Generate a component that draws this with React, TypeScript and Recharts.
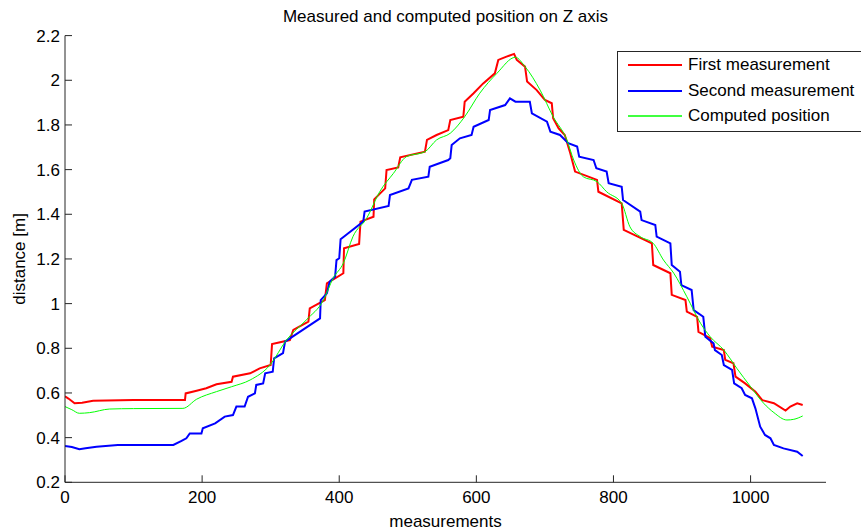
import {
  Label,
  Legend,
  Line,
  LineChart,
  XAxis,
  YAxis,
} from "recharts";

const firstMeasurement: [number, number][] = [
  [0, 0.585], [5, 0.575], [14, 0.554], [25, 0.556], [41, 0.565], [100, 0.568],
  [175, 0.568], [176, 0.598], [192, 0.61], [206, 0.621], [221, 0.639],
  [243, 0.65], [245, 0.673], [270, 0.688], [284, 0.71], [300, 0.725],
  [302, 0.819], [328, 0.837], [333, 0.882], [355, 0.919], [357, 0.979],
  [379, 1.016], [382, 1.091], [406, 1.136], [407, 1.248], [429, 1.267],
  [431, 1.367], [450, 1.389], [451, 1.467], [467, 1.516], [469, 1.598],
  [486, 1.61], [489, 1.655], [525, 1.68], [528, 1.733], [542, 1.755],
  [559, 1.777], [562, 1.822], [581, 1.837], [583, 1.904], [596, 1.942],
  [610, 1.986], [627, 2.031], [632, 2.091], [644, 2.106], [655, 2.118],
  [659, 2.091], [671, 2.061], [674, 1.994], [688, 1.956], [700, 1.912],
  [710, 1.897], [712, 1.83], [720, 1.785], [729, 1.755], [737, 1.673],
  [744, 1.591], [776, 1.554], [778, 1.501], [812, 1.449], [815, 1.33],
  [856, 1.27], [858, 1.173], [883, 1.136], [885, 1.039], [905, 1.016],
  [907, 0.964], [922, 0.941], [924, 0.874], [941, 0.845], [944, 0.807],
  [961, 0.792], [963, 0.748], [975, 0.733], [978, 0.673], [992, 0.643],
  [1007, 0.606], [1017, 0.568], [1034, 0.554], [1051, 0.521], [1058, 0.539],
  [1068, 0.554], [1076, 0.546],
];

const secondMeasurement: [number, number][] = [
  [0, 0.363], [10, 0.358], [21, 0.348], [30, 0.352], [46, 0.359], [77, 0.367],
  [120, 0.367], [158, 0.367], [170, 0.385], [177, 0.397], [182, 0.419],
  [199, 0.419], [201, 0.442], [219, 0.464], [233, 0.494], [245, 0.501],
  [250, 0.539], [262, 0.539], [267, 0.583], [277, 0.598], [279, 0.636],
  [289, 0.643], [292, 0.688], [303, 0.695], [305, 0.755], [318, 0.778],
  [321, 0.83], [372, 0.934], [373, 1.016], [382, 1.046], [386, 1.098],
  [394, 1.121], [396, 1.195], [400, 1.203], [402, 1.288], [416, 1.322],
  [435, 1.367], [437, 1.412], [472, 1.437], [474, 1.486], [501, 1.516],
  [506, 1.554], [530, 1.568], [532, 1.613], [559, 1.643], [562, 1.651],
  [564, 1.71], [576, 1.74], [593, 1.755], [596, 1.792], [618, 1.822],
  [620, 1.867], [642, 1.889], [649, 1.919], [657, 1.904], [678, 1.904],
  [681, 1.852], [703, 1.815], [708, 1.77], [722, 1.755], [734, 1.718],
  [747, 1.703], [750, 1.658], [771, 1.643], [775, 1.606], [790, 1.591],
  [793, 1.539], [812, 1.523], [814, 1.464], [839, 1.412], [841, 1.374],
  [861, 1.352], [863, 1.3], [883, 1.27], [885, 1.173], [897, 1.143],
  [899, 1.083], [914, 1.061], [917, 0.971], [931, 0.941], [934, 0.852],
  [946, 0.822], [948, 0.792], [958, 0.77], [961, 0.725], [973, 0.703],
  [976, 0.643], [987, 0.621], [992, 0.591], [1002, 0.576], [1007, 0.531],
  [1014, 0.449], [1021, 0.412], [1029, 0.397], [1034, 0.367], [1048, 0.352],
  [1068, 0.337], [1076, 0.318],
];

const computedPosition: [number, number][] = [
  [0, 0.539], [10, 0.525], [21, 0.509], [36, 0.512], [65, 0.528], [100, 0.53],
  [172, 0.531], [192, 0.572], [221, 0.606], [243, 0.628], [270, 0.658],
  [299, 0.725], [323, 0.837], [352, 0.927], [377, 1.016], [391, 1.113],
  [406, 1.181], [420, 1.3], [440, 1.382], [459, 1.501], [479, 1.583],
  [498, 1.658], [525, 1.68], [542, 1.733], [562, 1.763], [583, 1.837],
  [605, 1.942], [630, 2.031], [657, 2.103], [671, 2.061], [693, 1.956],
  [712, 1.837], [732, 1.733], [742, 1.643], [756, 1.568], [776, 1.546],
  [790, 1.501], [812, 1.449], [824, 1.344], [839, 1.3], [858, 1.27],
  [873, 1.195], [888, 1.136], [907, 1.031], [927, 0.912], [941, 0.852],
  [961, 0.792], [980, 0.71], [1000, 0.628], [1019, 0.554], [1034, 0.512],
  [1053, 0.479], [1063, 0.482], [1076, 0.497],
];

const seriesNames = ["First measurement", "Second measurement", "Computed position"];
const xTicks = [0, 200, 400, 600, 800, 1000];
const yTicks = [0.2, 0.4, 0.6, 0.8, 1, 1.2, 1.4, 1.6, 1.8, 2, 2.2];

const toPoints = (rows: [number, number][]) => rows.map(([x, y]) => ({ x, y }));

const FONT = '"Liberation Sans", Arial, Helvetica, sans-serif';
const AXIS = "#262626";

function BoxLegend({ payload }: any) {
  // keep the plotting order rather than recharts' alphabetical sort
  const items = [...(payload || [])].sort(
    (a: any, b: any) => seriesNames.indexOf(a.value) - seriesNames.indexOf(b.value)
  );
  return (
    <div
      style={{
        border: `1px solid ${AXIS}`,
        background: "#fff",
        width: 260,
        padding: "1px 0 2px 0",
        fontSize: 17,
        color: "#000",
      }}
    >
      {items.map((p: any) => (
        <div
          key={p.value}
          style={{ display: "flex", alignItems: "center", height: 25.5 }}
        >
          <svg width={70} height={6} style={{ display: "block" }}>
            <line
              x1={10}
              x2={64}
              y1={3}
              y2={3}
              stroke={p.color}
              strokeWidth={p.value === seriesNames[2] ? 1.5 : 2}
            />
          </svg>
          <span style={{ whiteSpace: "nowrap" }}>{p.value}</span>
        </div>
      ))}
    </div>
  );
}

export default function App() {
  return (
    <div
      style={{
        position: "fixed",
        left: 0,
        top: 0,
        width: 861,
        height: 531,
        overflow: "hidden",
        background: "#fff",
        fontFamily: FONT,
      }}
    >
      <div
        style={{
          position: "absolute",
          top: 7,
          left: 65,
          width: 761,
          textAlign: "center",
          fontSize: 17,
          lineHeight: "20px",
          color: "#000",
        }}
      >
        Measured and computed position on Z axis
      </div>
      <LineChart
        width={861}
        height={531}
        margin={{ top: 35.6, right: 35, bottom: 0, left: 0 }}
      >
        <XAxis
          type="number"
          dataKey="x"
          domain={[0, 1110]}
          ticks={xTicks}
          allowDataOverflow
          height={48.7}
          axisLine={{ stroke: AXIS }}
          tickLine={{ stroke: AXIS }}
          tickSize={-7}
          tickMargin={16}
          tick={{ fontSize: 17, fill: "#000" }}
        >
          <Label
            value="measurements"
            position="insideBottom"
            offset={4}
            style={{ fontSize: 17, fill: "#000" }}
          />
        </XAxis>
        <YAxis
          type="number"
          domain={[0.2, 2.2]}
          ticks={yTicks}
          width={65}
          allowDataOverflow
          axisLine={{ stroke: AXIS }}
          tickLine={{ stroke: AXIS }}
          tickSize={-7}
          tickMargin={12}
          tickFormatter={(v: number) => String(Number(v.toFixed(1)))}
          tick={{ fontSize: 17, fill: "#000" }}
        >
          <Label
            value="distance [m]"
            angle={-90}
            position="insideLeft"
            offset={19}
            style={{ fontSize: 17, fill: "#000", textAnchor: "middle" }}
          />
        </YAxis>
        <Legend
          layout="vertical"
          align="center"
          verticalAlign="middle"
          wrapperStyle={{ top: 50.7, left: 617, width: 260 }}
          content={BoxLegend}
        />
        <Line
          name={seriesNames[0]}
          data={toPoints(firstMeasurement)}
          dataKey="y"
          type="linear"
          stroke="#ff0000"
          strokeWidth={2}
          dot={false}
          isAnimationActive={false}
        />
        <Line
          name={seriesNames[1]}
          data={toPoints(secondMeasurement)}
          dataKey="y"
          type="linear"
          stroke="#0000ff"
          strokeWidth={2}
          dot={false}
          isAnimationActive={false}
        />
        <Line
          name={seriesNames[2]}
          data={toPoints(computedPosition)}
          dataKey="y"
          type="monotone"
          stroke="#00ff00"
          strokeWidth={1}
          dot={false}
          isAnimationActive={false}
        />
      </LineChart>
    </div>
  );
}
